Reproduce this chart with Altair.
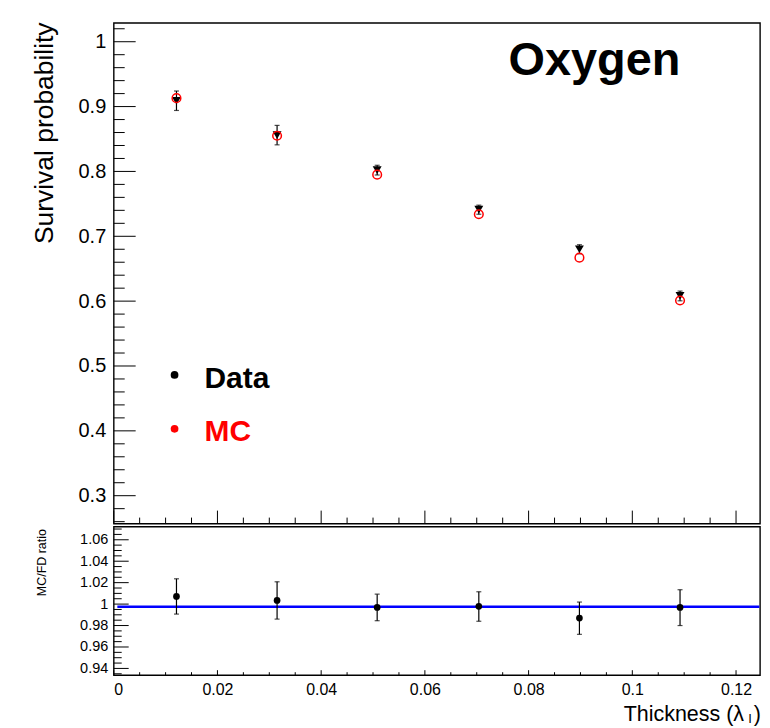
import altair as alt
import pandas as pd

# ---------------- data ----------------
thickness = [0.0121, 0.0315, 0.0508, 0.0704, 0.0898, 0.1092]
data_surv = [0.909, 0.856, 0.802, 0.741, 0.680, 0.608]
data_err = [0.015, 0.015, 0.0075, 0.007, 0.007, 0.0075]
mc_surv = [0.913, 0.855, 0.795, 0.734, 0.667, 0.601]

ratio = [1.0072, 1.0034, 0.9969, 0.9979, 0.9870, 0.9969]
ratio_lo = [0.9907, 0.9860, 0.9845, 0.9840, 0.9718, 0.9800]
ratio_hi = [1.0236, 1.0208, 1.0093, 1.0115, 1.0019, 1.0134]

fit_value = 0.9976
fit_range = [0.0007, 0.1245]

legend_labels = ["Data", "MC"]
legend_colors = ["black", "red"]
panel_label = "Oxygen"

# axis ranges / ticks
x_domain = [0.0, 0.12462]
top_y_domain = [0.257, 1.029]
bot_y_domain = [0.9337, 1.0723]
x_major = [0.0, 0.02, 0.04, 0.06, 0.08, 0.1, 0.12]
top_y_major = [0.3, 0.4, 0.5, 0.6, 0.7, 0.8, 0.9, 1.0]
bot_y_major = [0.94, 0.96, 0.98, 1.0, 1.02, 1.04, 1.06]

x_minor = [round(i * 0.005, 4) for i in range(0, 25) if i % 4 != 0]
top_y_minor = [round(0.26 + i * 0.02, 4) for i in range(0, 39) if (i * 2 + 26) % 10 != 0]
bot_y_minor = [round(0.935 + i * 0.005, 4) for i in range(0, 28) if (i % 4) != 1]

FONT = "Liberation Sans"
W = 648
H_TOP = 502
H_BOT = 149

# ---------------- scales & axes ----------------
xs = alt.Scale(domain=x_domain, nice=False, zero=False)
ys_top = alt.Scale(domain=top_y_domain, nice=False, zero=False)
ys_bot = alt.Scale(domain=bot_y_domain, nice=False, zero=False)

top_y_axis = alt.Axis(values=top_y_major, format="~g", ticks=False, domain=False, grid=False,
                      labelFont=FONT, labelFontSize=20, labelPadding=8, labelColor="black",
                      title="Survival probability", titleFont=FONT, titleFontSize=26.5,
                      titleFontWeight="normal", titleColor="black", titleX=-61, titleY=-1,
                      titleAngle=270, titleAlign="right", titleBaseline="alphabetic")
bot_y_axis = alt.Axis(values=bot_y_major, format="~g", ticks=False, domain=False, grid=False,
                      labelFont=FONT, labelFontSize=14.5, labelPadding=6, labelColor="black",
                      title="MC/FD ratio", titleFont=FONT, titleFontSize=12.5,
                      titleFontWeight="normal", titleColor="black", titleX=-68, titleY=2,
                      titleAngle=270, titleAlign="right", titleBaseline="alphabetic")
bot_x_axis = alt.Axis(values=x_major, format="~g", ticks=False, domain=False, grid=False,
                      labelFont=FONT, labelFontSize=16, labelPadding=6, labelColor="black",
                      title=None)

# ---------------- top panel ----------------
df_top = pd.DataFrame({
    "thickness": thickness,
    "data": data_surv,
    "lo": [d - e for d, e in zip(data_surv, data_err)],
    "hi": [d + e for d, e in zip(data_surv, data_err)],
    "mc": mc_surv,
})

tx = alt.X("thickness:Q", scale=xs, axis=None)

top_err = alt.Chart(df_top).mark_rule(color="black", strokeWidth=1.2).encode(
    x=tx, y=alt.Y("lo:Q", scale=ys_top, axis=top_y_axis), y2="hi:Q")
top_cap_lo = alt.Chart(df_top).mark_tick(color="black", orient="horizontal", size=5, thickness=1.2).encode(
    x=tx, y=alt.Y("lo:Q", scale=ys_top, axis=top_y_axis))
top_cap_hi = alt.Chart(df_top).mark_tick(color="black", orient="horizontal", size=5, thickness=1.2).encode(
    x=tx, y=alt.Y("hi:Q", scale=ys_top, axis=top_y_axis))
top_data = alt.Chart(df_top).mark_point(shape="triangle-down", filled=True, color="black", size=80, opacity=1).encode(
    x=tx, y=alt.Y("data:Q", scale=ys_top, axis=top_y_axis))
top_mc = alt.Chart(df_top).mark_point(shape="circle", filled=False, color="red", size=75, strokeWidth=1.5, opacity=1).encode(
    x=tx, y=alt.Y("mc:Q", scale=ys_top, axis=top_y_axis))

top_ymaj = alt.Chart(pd.DataFrame({"v": top_y_major})).mark_rule(color="black", strokeWidth=1).encode(
    y=alt.Y("v:Q", scale=ys_top, axis=top_y_axis), x=alt.value(0), x2=alt.value(22))
top_ymin = alt.Chart(pd.DataFrame({"v": top_y_minor})).mark_rule(color="black", strokeWidth=1).encode(
    y=alt.Y("v:Q", scale=ys_top, axis=top_y_axis), x=alt.value(0), x2=alt.value(11))
top_xmaj = alt.Chart(pd.DataFrame({"v": x_major})).mark_rule(color="black", strokeWidth=1).encode(
    x=alt.X("v:Q", scale=xs, axis=None), y=alt.value(H_TOP), y2=alt.value(H_TOP - 13))
top_xmin = alt.Chart(pd.DataFrame({"v": x_minor})).mark_rule(color="black", strokeWidth=1).encode(
    x=alt.X("v:Q", scale=xs, axis=None), y=alt.value(H_TOP), y2=alt.value(H_TOP - 6))

oxygen = alt.Chart(pd.DataFrame({"t": [panel_label]})).mark_text(
    font=FONT, fontSize=47, fontWeight="bold", color="black", align="center", baseline="alphabetic").encode(
    x=alt.value(482), y=alt.value(52), text="t:N")

leg_rows = []
for i, (lab, col) in enumerate(zip(legend_labels, legend_colors)):
    d = pd.DataFrame({"t": [lab]})
    leg_rows.append(alt.Chart(d).mark_point(shape="circle", filled=True, color=col, size=60, opacity=1).encode(
        x=alt.value(61), y=alt.value(353 + 54 * i)))
    leg_rows.append(alt.Chart(d).mark_text(font=FONT, fontSize=30, fontWeight="bold", color=col,
                                           align="left", baseline="alphabetic").encode(
        x=alt.value(91), y=alt.value(366 + 53 * i), text="t:N"))

top = alt.layer(top_ymaj, top_ymin, top_xmaj, top_xmin, top_err, top_cap_lo, top_cap_hi,
                top_data, top_mc, oxygen, *leg_rows).properties(width=W, height=H_TOP)

# ---------------- bottom (ratio) panel ----------------
df_bot = pd.DataFrame({"thickness": thickness, "ratio": ratio, "lo": ratio_lo, "hi": ratio_hi})
bx = alt.X("thickness:Q", scale=xs, axis=bot_x_axis)

bot_err = alt.Chart(df_bot).mark_rule(color="black", strokeWidth=1.2).encode(
    x=bx, y=alt.Y("lo:Q", scale=ys_bot, axis=bot_y_axis), y2="hi:Q")
bot_cap_lo = alt.Chart(df_bot).mark_tick(color="black", orient="horizontal", size=5, thickness=1.2).encode(
    x=bx, y=alt.Y("lo:Q", scale=ys_bot, axis=bot_y_axis))
bot_cap_hi = alt.Chart(df_bot).mark_tick(color="black", orient="horizontal", size=5, thickness=1.2).encode(
    x=bx, y=alt.Y("hi:Q", scale=ys_bot, axis=bot_y_axis))
bot_pts = alt.Chart(df_bot).mark_point(shape="circle", filled=True, color="black", size=45, opacity=1).encode(
    x=bx, y=alt.Y("ratio:Q", scale=ys_bot, axis=bot_y_axis))

df_fit = pd.DataFrame({"x": [fit_range[0]], "x2": [fit_range[1]], "y": [fit_value]})
bot_fit = alt.Chart(df_fit).mark_rule(color="#0000ff", strokeWidth=2.6).encode(
    x=alt.X("x:Q", scale=xs, axis=bot_x_axis), x2="x2:Q", y=alt.Y("y:Q", scale=ys_bot, axis=bot_y_axis))

bot_ymaj = alt.Chart(pd.DataFrame({"v": bot_y_major})).mark_rule(color="black", strokeWidth=1).encode(
    y=alt.Y("v:Q", scale=ys_bot, axis=bot_y_axis), x=alt.value(0), x2=alt.value(15))
bot_ymin = alt.Chart(pd.DataFrame({"v": bot_y_minor})).mark_rule(color="black", strokeWidth=1).encode(
    y=alt.Y("v:Q", scale=ys_bot, axis=bot_y_axis), x=alt.value(0), x2=alt.value(8))
bot_xmaj = alt.Chart(pd.DataFrame({"v": x_major})).mark_rule(color="black", strokeWidth=1).encode(
    x=alt.X("v:Q", scale=xs, axis=bot_x_axis), y=alt.value(H_BOT), y2=alt.value(H_BOT - 5))
bot_xmin = alt.Chart(pd.DataFrame({"v": x_minor})).mark_rule(color="black", strokeWidth=1).encode(
    x=alt.X("v:Q", scale=xs, axis=bot_x_axis), y=alt.value(H_BOT), y2=alt.value(H_BOT - 3))

xt = pd.DataFrame({"t": ["Thickness (λ"], "s": ["I"], "p": [")"]})
xtitle_main = alt.Chart(xt).mark_text(font=FONT, fontSize=21.5, color="black", align="right",
                                      baseline="alphabetic").encode(
    x=alt.value(632), y=alt.value(195), text="t:N")
xtitle_sub = alt.Chart(xt).mark_text(font=FONT, fontSize=13, color="black", align="center",
                                     baseline="alphabetic").encode(
    x=alt.value(638), y=alt.value(197), text="s:N")
xtitle_par = alt.Chart(xt).mark_text(font=FONT, fontSize=21.5, color="black", align="right",
                                     baseline="alphabetic").encode(
    x=alt.value(649), y=alt.value(195), text="p:N")

bottom = alt.layer(bot_ymaj, bot_ymin, bot_xmaj, bot_xmin, bot_fit, bot_err, bot_cap_lo,
                   bot_cap_hi, bot_pts, xtitle_main, xtitle_sub, xtitle_par).properties(width=W, height=H_BOT)

chart = alt.vconcat(top, bottom, spacing=0).resolve_scale(x="independent", y="independent").properties(
    padding={"left": 23, "top": 12, "right": 0, "bottom": 0},
    background="white",
).configure_view(stroke="black", strokeWidth=1.4)

chart.save("out.html", embed_options={"renderer": "svg", "actions": False})
